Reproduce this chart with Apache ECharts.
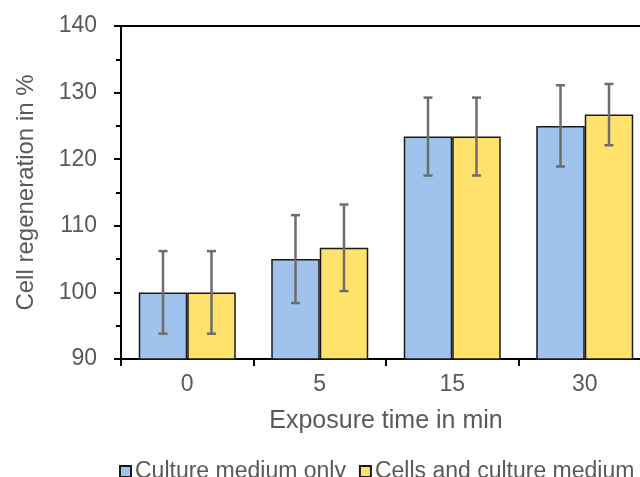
<!DOCTYPE html>
<html><head><meta charset="utf-8">
<script src="https://cdn.jsdelivr.net/npm/echarts@6/dist/echarts.min.js"></script>
<style>html,body{margin:0;padding:0;background:#fff;overflow:hidden;width:640px;height:477px}#c{width:670px;height:477px}</style>
</head><body><div id="c"></div>
<script>
const categories = ['0', '5', '15', '30'];
const seriesNames = ['Culture medium only', 'Cells and culture medium'];
const mediumOnly = [100.0, 105.0, 123.4, 125.0];
const mediumOnlyErr = [6.2, 6.6, 5.85, 6.1];
const cellsMedium = [100.0, 106.7, 123.4, 126.7];
const cellsMediumErr = [6.2, 6.5, 5.85, 4.6];
const yTicks = [90, 100, 110, 120, 130, 140];

const gapRatio = 0.268;
function errSeries(values, errs, side) {
  return {
    type: 'custom',
    z: 10,
    data: values.map((v, i) => [i, v, errs[i]]),
    renderItem: function (params, api) {
      const idx = api.value(0), v = api.value(1), e = api.value(2);
      const catW = api.size([1, 0])[0];
      const barW = catW * (1 - gapRatio) / 2;
      const c = api.coord([idx, v]);
      const x = c[0] + side * barW / 2;
      const yTop = api.coord([idx, v + e])[1];
      const yBot = api.coord([idx, v - e])[1];
      const cap = 4.5;
      const style = { stroke: '#6d6d6d', lineWidth: 2.5, fill: null };
      return { type: 'group', children: [
        { type: 'line', shape: { x1: x, y1: yTop, x2: x, y2: yBot }, style: style },
        { type: 'line', shape: { x1: x - cap, y1: yTop, x2: x + cap, y2: yTop }, style: style },
        { type: 'line', shape: { x1: x - cap, y1: yBot, x2: x + cap, y2: yBot }, style: style }
      ]};
    },
    silent: true
  };
}

const chart = echarts.init(document.getElementById('c'), null, { renderer: 'canvas' });
const font = 'Liberation Sans, Arial, sans-serif';
chart.setOption({
  animation: false,
  textStyle: { fontFamily: font },
  grid: { left: 121, top: 26, height: 333, width: 530, show: true, borderColor: '#000', borderWidth: 2, containLabel: false },
  legend: {
    data: seriesNames,
    left: 114, top: 455,
    itemWidth: 11, itemHeight: 11, itemGap: 13,
    icon: 'rect',
    textStyle: { fontSize: 23, color: '#595959', fontFamily: font, padding: [0, 0, 0, -1] }
  },
  xAxis: {
    type: 'category',
    data: categories,
    name: 'Exposure time in min',
    nameLocation: 'middle',
    nameGap: 50,
    nameTextStyle: { fontSize: 25, color: '#595959' },
    axisLine: { lineStyle: { color: '#000', width: 2 } },
    axisTick: { show: true, length: 7, lineStyle: { color: '#000', width: 2 } },
    axisLabel: { fontSize: 23, color: '#595959', margin: 14 }
  },
  yAxis: {
    type: 'value',
    min: 90, max: 140, interval: 10,
    name: 'Cell regeneration in %',
    nameLocation: 'middle',
    nameGap: 83,
    nameTextStyle: { fontSize: 24, color: '#595959' },
    axisLine: { show: true, lineStyle: { color: '#000', width: 2 } },
    axisTick: { show: true, length: 7, lineStyle: { color: '#000', width: 2 } },
    minorTick: { show: true, splitNumber: 2, length: 5, lineStyle: { color: '#000', width: 2 } },
    splitLine: { show: false },
    axisLabel: { fontSize: 23, color: '#595959', margin: 24, formatter: v => yTicks.includes(v) ? String(v) : '' }
  },
  series: [
    { name: seriesNames[0], type: 'bar', data: mediumOnly, barGap: '0%', barCategoryGap: (gapRatio * 100) + '%',
      itemStyle: { color: '#a0c3ed', borderColor: '#1a1a1a', borderWidth: 1.5 } },
    { name: seriesNames[1], type: 'bar', data: cellsMedium, barGap: '0%', barCategoryGap: (gapRatio * 100) + '%',
      itemStyle: { color: '#ffe26b', borderColor: '#1a1a1a', borderWidth: 1.5 } },
    errSeries(mediumOnly, mediumOnlyErr, -1),
    errSeries(cellsMedium, cellsMediumErr, 1)
  ]
});
</script></body></html>
